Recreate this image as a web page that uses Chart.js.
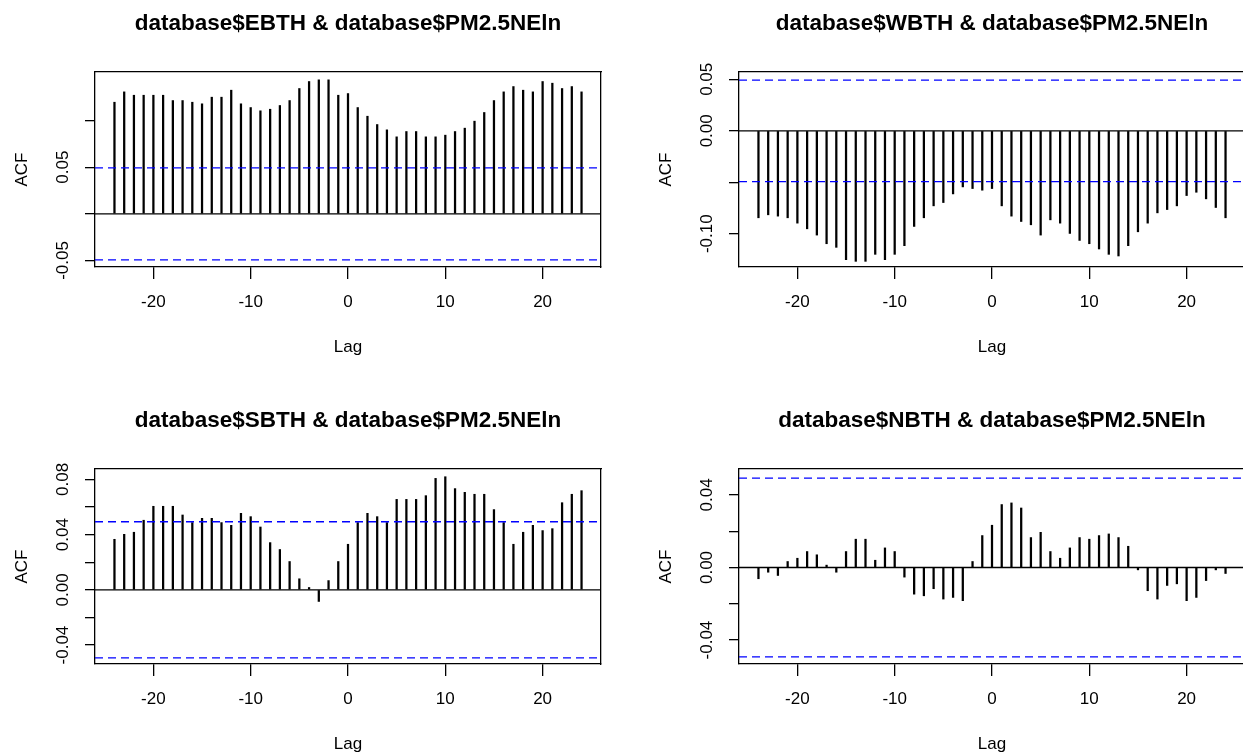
<!DOCTYPE html>
<html>
<head>
<meta charset="utf-8">
<title>ccf panels</title>
<script src="https://cdn.jsdelivr.net/npm/chart.js@4.4.1/dist/chart.umd.min.js"></script>
<style>
  html, body { margin: 0; padding: 0; background: #fff; width: 1243px; height: 753px; overflow: hidden; }
  .panel { position: absolute; width: 642px; height: 397px; }
</style>
</head>
<body>
<div class="panel" style="left:0px;top:0px"><canvas id="p1"></canvas></div>
<div class="panel" style="left:644px;top:0px"><canvas id="p2"></canvas></div>
<div class="panel" style="left:0px;top:397px"><canvas id="p3"></canvas></div>
<div class="panel" style="left:644px;top:397px"><canvas id="p4"></canvas></div>
<script>
// lags of the cross-correlation
const lags = [-24, -23, -22, -21, -20, -19, -18, -17, -16, -15, -14, -13, -12, -11, -10, -9, -8, -7, -6, -5, -4, -3, -2, -1,
    0, 1, 2, 3, 4, 5, 6, 7, 8, 9, 10, 11, 12, 13, 14, 15, 16, 17, 18, 19, 20, 21, 22, 23, 24];

const ebthAcf = [0.1196, 0.1307, 0.1271, 0.1271, 0.1271, 0.1271, 0.1214, 0.1214, 0.1196, 0.1179, 0.1250, 0.1250,
    0.1325, 0.1179, 0.1139, 0.1104, 0.1121, 0.1161, 0.1214, 0.1343, 0.1418, 0.1436, 0.1436, 0.1271,
    0.1289, 0.1139, 0.1046, 0.0957, 0.0900, 0.0825, 0.0882, 0.0882, 0.0825, 0.0825, 0.0843, 0.0882,
    0.0918, 0.0993, 0.1086, 0.1214, 0.1307, 0.1364, 0.1325, 0.1307, 0.1418, 0.1400, 0.1343, 0.1364, 0.1307];

const wbthAcf = [-0.0845, -0.0816, -0.0829, -0.0845, -0.0897, -0.0952, -0.1013, -0.1097, -0.1132, -0.1252, -0.1268, -0.1268,
    -0.1200, -0.1252, -0.1200, -0.1116, -0.0929, -0.0845, -0.0729, -0.0697, -0.0613, -0.0545, -0.0561, -0.0577,
    -0.0561, -0.0729, -0.0829, -0.0881, -0.0913, -0.1013, -0.0865, -0.0897, -0.0997, -0.1065, -0.1097, -0.1148,
    -0.1200, -0.1216, -0.1116, -0.0981, -0.0897, -0.0797, -0.0765, -0.0729, -0.0629, -0.0597, -0.0661, -0.0745, -0.0845];

const sbthAcf = [0.0366, 0.0402, 0.0417, 0.0504, 0.0605, 0.0605, 0.0605, 0.0542, 0.0487, 0.0518, 0.0518, 0.0487,
    0.0467, 0.0554, 0.0530, 0.0455, 0.0342, 0.0292, 0.0205, 0.0080, 0.0017, -0.0084, 0.0067, 0.0205,
    0.0330, 0.0487, 0.0554, 0.0530, 0.0487, 0.0655, 0.0655, 0.0655, 0.0682, 0.0807, 0.0819, 0.0733,
    0.0706, 0.0692, 0.0692, 0.0581, 0.0487, 0.0330, 0.0417, 0.0467, 0.0429, 0.0443, 0.0631, 0.0692, 0.0718];

const nbthAcf = [-0.0062, -0.0026, -0.0044, 0.0033, 0.0051, 0.0088, 0.0070, 0.0013, -0.0026, 0.0088, 0.0156, 0.0156,
    0.0040, 0.0108, 0.0088, -0.0053, -0.0147, -0.0156, -0.0117, -0.0174, -0.0165, -0.0183, 0.0033, 0.0176,
    0.0233, 0.0347, 0.0356, 0.0328, 0.0165, 0.0194, 0.0088, 0.0051, 0.0108, 0.0165, 0.0156, 0.0176,
    0.0185, 0.0165, 0.0117, -0.0013, -0.0128, -0.0174, -0.0099, -0.0090, -0.0183, -0.0165, -0.0072, -0.0013, -0.0033];

// 95% band drawn as dashed blue lines
const confLimit = 0.0493;

const xTicks = [-20, -10, 0, 10, 20];
const xRange = [-26.0, 26.0];

const ebthTicks = [-0.05, 0, 0.05, 0.10];
const ebthTickLabels = ['-0.05', '', '0.05', ''];
const wbthTicks = [-0.10, -0.05, 0, 0.05];
const wbthTickLabels = ['-0.10', '', '0.00', '0.05'];
const sbthTicks = [-0.04, -0.02, 0, 0.02, 0.04, 0.06, 0.08];
const sbthTickLabels = ['-0.04', '', '0.00', '', '0.04', '', '0.08'];
const nbthTicks = [-0.04, -0.02, 0, 0.02, 0.04];
const nbthTickLabels = ['-0.04', '', '0.00', '', '0.04'];

const titles = [
    'database$EBTH & database$PM2.5NEln',
    'database$WBTH & database$PM2.5NEln',
    'database$SBTH & database$PM2.5NEln',
    'database$NBTH & database$PM2.5NEln'
];

const FONT = '"Liberation Sans", Arial, sans-serif';

function hLine(y) {
    return [{ x: xRange[0], y: y }, { x: xRange[1], y: y }];
}

function makePanel(id, title, values, yRange, yTicks, yTickLabels) {
    const ctx = document.getElementById(id).getContext('2d');
    const bars = lags.map((lag, i) => ({ x: lag, y: values[i] }));
    const lineStyle = { type: 'line', pointRadius: 0, borderWidth: 1.3, tension: 0, fill: false };

    new Chart(ctx, {
        type: 'bar',
        data: {
            datasets: [
                { ...lineStyle, data: hLine(0), borderColor: '#000' },
                { ...lineStyle, data: hLine(confLimit), borderColor: '#0000ff', borderDash: [8, 5] },
                { ...lineStyle, data: hLine(-confLimit), borderColor: '#0000ff', borderDash: [8, 5] },
                { data: bars, backgroundColor: '#000', barThickness: 1.6 }
            ]
        },
        options: {
            responsive: true,
            maintainAspectRatio: false,
            animation: false,
            events: [],
            layout: { padding: 0 },
            plugins: { legend: { display: false }, tooltip: { enabled: false } },
            scales: {
                x: {
                    type: 'linear',
                    min: xRange[0],
                    max: xRange[1],
                    offset: false,
                    afterBuildTicks: s => { s.ticks = xTicks.map(v => ({ value: v })); },
                    afterFit: s => { s.height = 130; },
                    ticks: {
                        autoSkip: false, maxRotation: 0, padding: 13, color: '#000',
                        font: { family: FONT, size: 17 },
                        callback: v => String(v)
                    },
                    grid: { drawOnChartArea: false, offset: false, tickLength: 12, color: '#000', lineWidth: 1.3 },
                    border: { color: '#000', width: 1.3 },
                    title: {
                        display: true, text: 'Lag', color: '#000',
                        font: { family: FONT, size: 17 },
                        padding: { top: 0, bottom: 39 }
                    }
                },
                y: {
                    type: 'linear',
                    min: yRange[0],
                    max: yRange[1],
                    afterBuildTicks: s => { s.ticks = yTicks.map(v => ({ value: v })); },
                    afterFit: s => { s.width = 95; },
                    ticks: {
                        autoSkip: false, minRotation: 90, maxRotation: 90, crossAlign: 'center',
                        padding: 2, color: '#000',
                        font: { family: FONT, size: 17 },
                        callback: (v, i) => yTickLabels[i]
                    },
                    grid: { drawOnChartArea: false, tickLength: 10, color: '#000', lineWidth: 1.3 },
                    border: { color: '#000', width: 1.3 },
                    title: {
                        display: true, text: 'ACF', color: '#000',
                        font: { family: FONT, size: 17 },
                        padding: { top: 12, bottom: 0 }
                    }
                },
                // top and right axes only close the box; the top one carries the title
                xTop: {
                    type: 'linear',
                    position: 'top',
                    min: xRange[0],
                    max: xRange[1],
                    afterFit: s => { s.height = 72; },
                    ticks: { display: false },
                    grid: { display: false },
                    border: { color: '#000', width: 1.3 },
                    title: {
                        display: true, text: title, color: '#000',
                        font: { family: FONT, size: 22.5, weight: 'bold' },
                        padding: { top: 10.5, bottom: 0 }
                    }
                },
                yRight: {
                    type: 'linear',
                    position: 'right',
                    min: yRange[0],
                    max: yRange[1],
                    afterFit: s => { s.width = 41; },
                    ticks: { display: false },
                    grid: { display: false },
                    border: { color: '#000', width: 1.3 }
                }
            }
        }
    });
}

makePanel('p1', titles[0], ebthAcf, [-0.057, 0.152], ebthTicks, ebthTickLabels);
makePanel('p2', titles[1], wbthAcf, [-0.1323, 0.0571], wbthTicks, wbthTickLabels);
makePanel('p3', titles[2], sbthAcf, [-0.0537, 0.0875], sbthTicks, sbthTickLabels);
makePanel('p4', titles[3], nbthAcf, [-0.0532, 0.0543], nbthTicks, nbthTickLabels);
</script>
</body>
</html>
